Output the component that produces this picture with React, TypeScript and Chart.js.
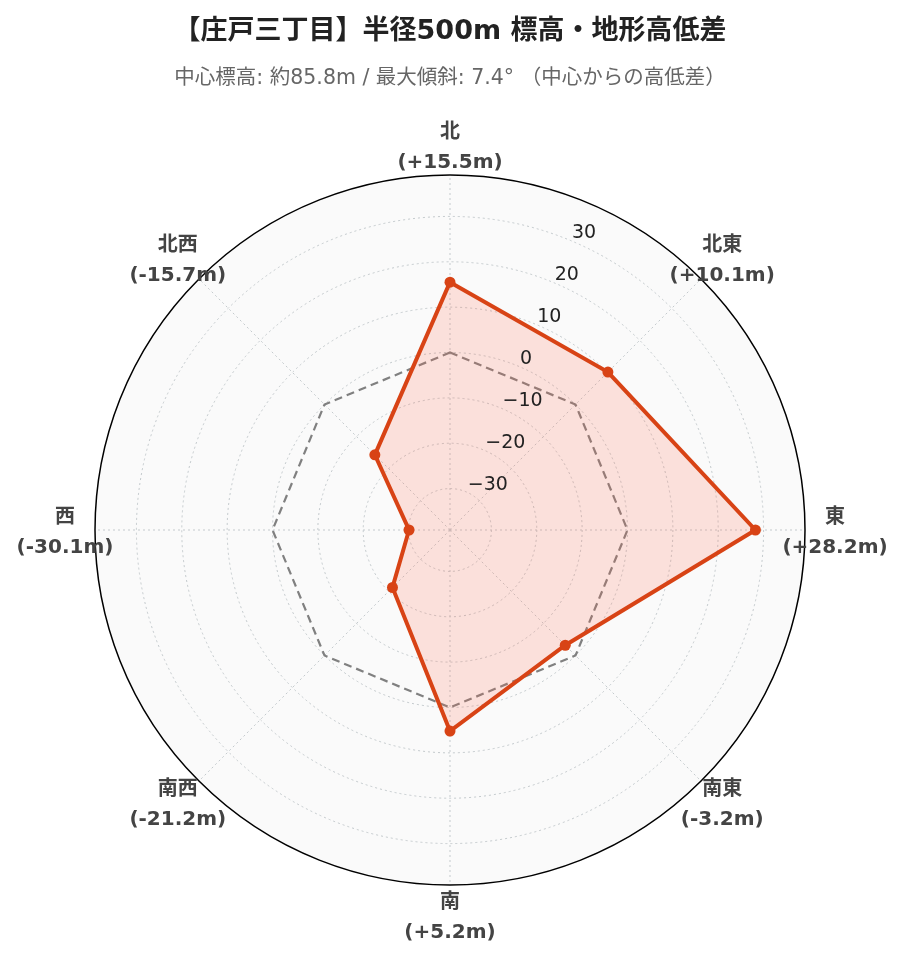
import React, { useEffect, useRef } from 'react';
import { Chart, registerables } from 'chart.js';

Chart.register(...registerables);

// ---- data ----
const DIRECTIONS = ['北', '北東', '東', '南東', '南', '南西', '西', '北西'];
const ELEVATION_DIFF = [15.5, 10.1, 28.2, -3.2, 5.2, -21.2, -30.1, -15.7];
const ZERO_REFERENCE = [0, 0, 0, 0, 0, 0, 0, 0];
const TICK_VALUES = [-30, -20, -10, 0, 10, 20, 30];
const RANGE_MIN = -39.13;
const RANGE_MAX = 39.13;
const TITLE = '【庄戸三丁目】半径500m 標高・地形高低差';
const SUBTITLE = '中心標高: 約85.8m / 最大傾斜: 7.4° （中心からの高低差）';

const FAMILY = "'DejaVu Sans', 'Noto Sans CJK JP', sans-serif";

const formatDiff = (v: number) => `(${v > 0 ? '+' : ''}${v.toFixed(1)}m)`;
const formatTick = (v: number) => (v < 0 ? '\u2212' + Math.abs(v) : String(v));

const labelPlugin = {
  id: 'customRadarLabels',
  afterDraw(chart: any) {
    const scale = chart.scales.r;
    const ctx = chart.ctx as CanvasRenderingContext2D;
    ctx.save();
    // radial tick labels along the 22.5° axis
    ctx.font = `19px ${FAMILY}`;
    ctx.fillStyle = '#222';
    ctx.textAlign = 'left';
    ctx.textBaseline = 'middle';
    TICK_VALUES.forEach((v) => {
      const p = scale.getPointPosition(0.5, scale.getDistanceFromCenterForValue(v));
      ctx.fillText(formatTick(v), p.x + 2, p.y - 7);
    });
    // direction labels, centred outside the circle
    ctx.font = `bold 20px ${FAMILY}`;
    ctx.fillStyle = '#444';
    ctx.textAlign = 'center';
    DIRECTIONS.forEach((d, i) => {
      const p = scale.getPointPosition(i, scale.drawingArea + 30);
      ctx.fillText(d, p.x, p.y - 12);
      ctx.fillText(formatDiff(ELEVATION_DIFF[i]), p.x, p.y + 18);
    });
    ctx.restore();
  },
};

export default function App() {
  const ref = useRef<HTMLCanvasElement>(null);

  useEffect(() => {
    if (!ref.current) return;
    const chart = new Chart(ref.current, {
      type: 'radar',
      data: {
        labels: DIRECTIONS,
        datasets: [
          {
            label: '高低差',
            data: ELEVATION_DIFF,
            borderColor: '#d84315',
            backgroundColor: 'rgba(255,105,80,0.18)',
            borderWidth: 4,
            pointRadius: 5.5,
            pointBackgroundColor: '#d84315',
            pointBorderColor: '#d84315',
            pointBorderWidth: 0,
            fill: 'start',
            order: 0,
          },
          {
            label: '基準 (0m)',
            data: ZERO_REFERENCE,
            borderColor: '#808080',
            borderDash: [8, 5],
            borderWidth: 2.2,
            pointRadius: 0,
            fill: false,
            order: 1,
          },
        ],
      },
      options: {
        responsive: false,
        animation: false,
        layout: { padding: { left: 95, right: 98, top: 0, bottom: 77 } },
        plugins: {
          legend: { display: false },
          tooltip: { enabled: false },
          title: {
            display: true,
            text: TITLE,
            color: '#222',
            font: { size: 27, weight: 'bold', family: FAMILY },
            padding: { top: 16, bottom: 0 },
          },
          subtitle: {
            display: true,
            text: SUBTITLE,
            color: '#666',
            font: { size: 20.5, family: FAMILY },
            padding: { top: 18.3, bottom: 83.7 },
          },
        },
        scales: {
          r: {
            min: RANGE_MIN,
            max: RANGE_MAX,
            startAngle: 0,
            backgroundColor: '#fafafa',
            afterBuildTicks: (s: any) => {
              s.ticks = [RANGE_MIN, ...TICK_VALUES, RANGE_MAX].map((value) => ({ value }));
            },
            ticks: { display: false },
            pointLabels: { display: false },
            grid: {
              circular: true,
              color: (c: any) => (c.index === TICK_VALUES.length + 1 ? '#000' : '#c4cacd'),
              lineWidth: (c: any) => (c.index === 0 ? 0 : c.index === TICK_VALUES.length + 1 ? 1.5 : 1),
            },
            border: {
              dash: (c: any) => (c.index === TICK_VALUES.length + 1 ? [] : [2, 3]),
            },
            angleLines: { color: '#c4cacd', lineWidth: 1, borderDash: [2, 3] },
          } as any,
        },
      },
      plugins: [labelPlugin],
    } as any);
    return () => chart.destroy();
  }, []);

  return (
    <div style={{ position: 'absolute', left: 0, top: 0, width: 903, height: 962, background: '#fff' }}>
      <canvas ref={ref} width={903} height={962} style={{ display: 'block' }} />
    </div>
  );
}
